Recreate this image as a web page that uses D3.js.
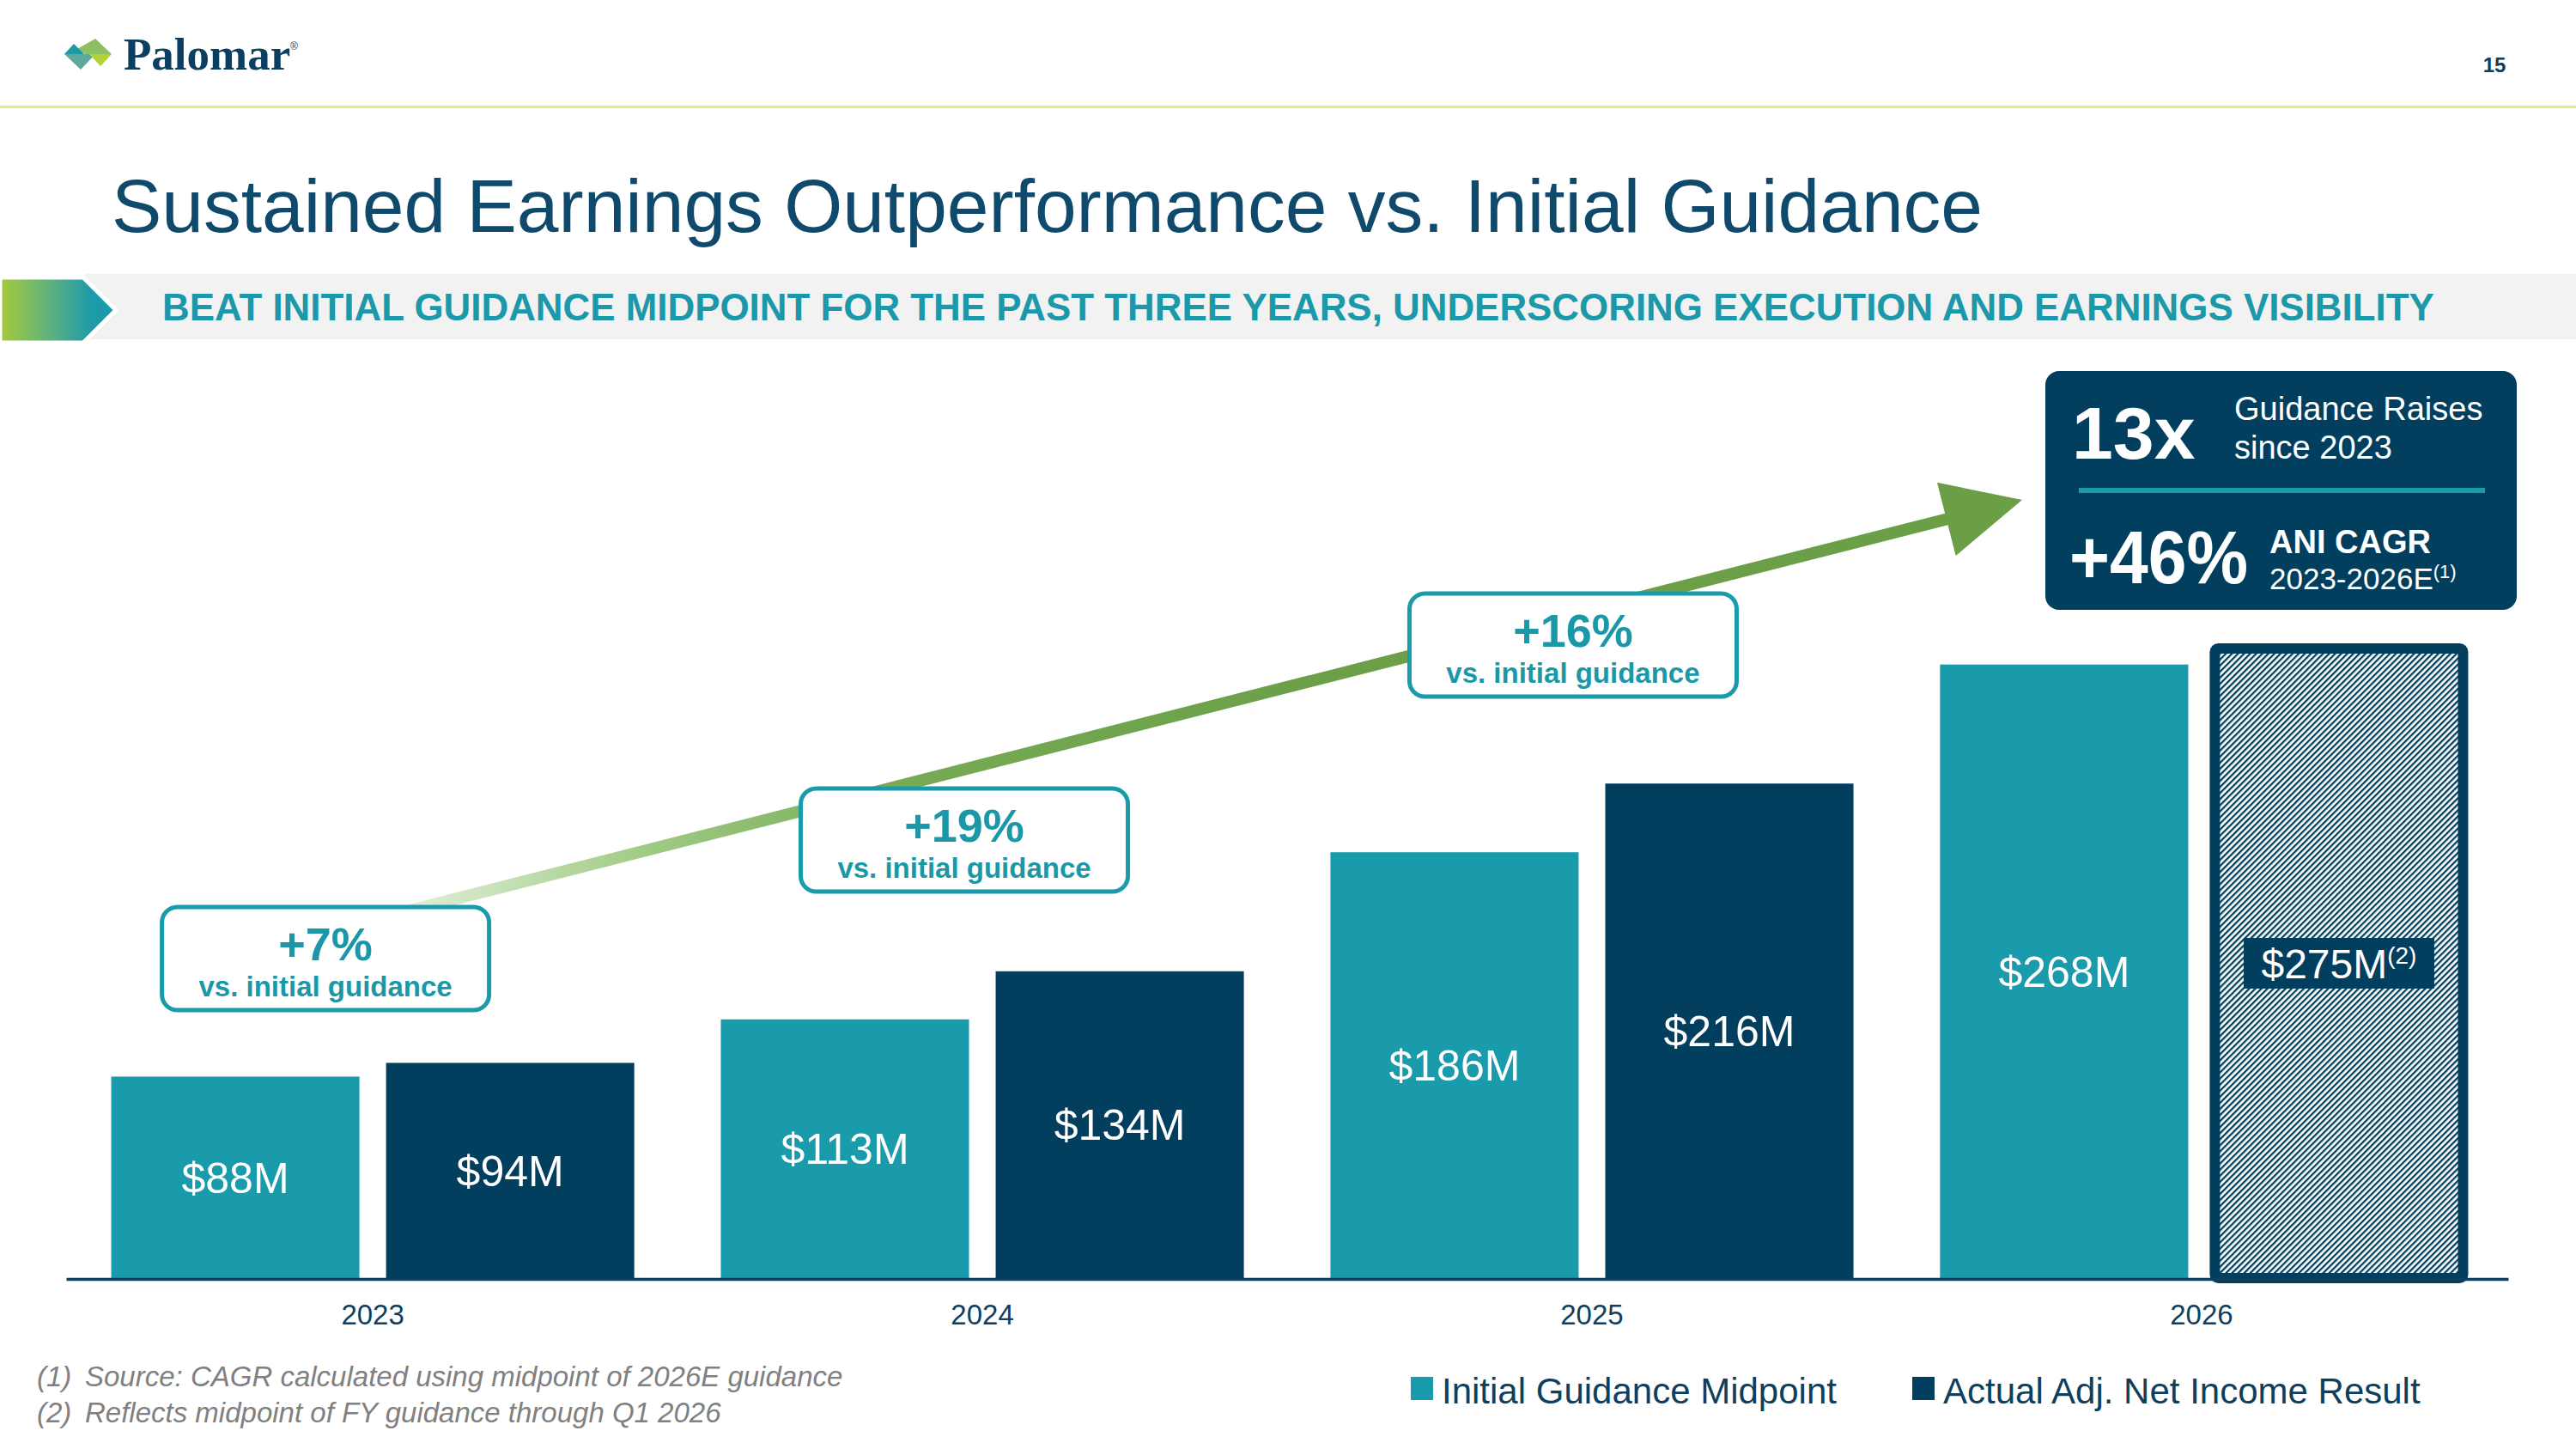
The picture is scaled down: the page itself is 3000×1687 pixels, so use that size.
<!DOCTYPE html>
<html>
<head>
<meta charset="utf-8">
<script src="https://cdn.jsdelivr.net/npm/d3@7"></script>
<style>
  html, body { margin: 0; padding: 0; background: #fff; }
  svg { display: block; font-family: "Liberation Sans", Arial, sans-serif; }
</style>
</head>
<body>
<div id="chart"></div>
<script>
// ---- data ----
const years = ["2023", "2024", "2025", "2026"];
const initialGuidance = [88, 113, 186, 268];
const actualResult = [94, 134, 216, 275];
const beatVsGuidance = ["+7%", "+19%", "+16%"];
const seriesNames = ["Initial Guidance Midpoint", "Actual Adj. Net Income Result"];
const footnoteMarks = ["(1)", "(2)"];
const footnotes = [
    "Source: CAGR calculated using midpoint of 2026E guidance",
    "Reflects midpoint of FY guidance through Q1 2026"
];
const estimateYear = "2026";

const width = 3000,
    height = 1687;

const teal = "#1a9bab",
    navy = "#023f5f",
    textNavy = "#0e3f5e",
    titleColor = "#0f4a6c";

const svg = d3.select("#chart")
    .append("svg")
    .attr("width", width)
    .attr("height", height)
    .attr("viewBox", `0 0 ${width} ${height}`);

const defs = svg.append("defs");

// hatch for the estimate bar
const hatch = defs.append("pattern")
    .attr("id", "hatch")
    .attr("patternUnits", "userSpaceOnUse")
    .attr("width", 5)
    .attr("height", 5)
    .attr("patternTransform", "rotate(45)");
hatch.append("rect").attr("width", 5).attr("height", 5).attr("fill", "#fff");
hatch.append("rect").attr("width", 2.3).attr("height", 5).attr("fill", navy);

// banner chevron gradient
const chevGrad = defs.append("linearGradient")
    .attr("id", "chevGrad")
    .attr("x1", 0).attr("x2", 1).attr("y1", 0).attr("y2", 0);
chevGrad.append("stop").attr("offset", 0).attr("stop-color", "#a6ca3a");
chevGrad.append("stop").attr("offset", 0.45).attr("stop-color", "#5cb081");
chevGrad.append("stop").attr("offset", 0.8).attr("stop-color", "#1b9aaa");

// ---- header ----
const logo = svg.append("g");
logo.append("polygon").attr("points", "75,63 111,63 94,81").attr("fill", "#5fa89c");
logo.append("polygon").attr("points", "104,63 130,63 117,77").attr("fill", "#b3d235");
logo.append("polygon").attr("points", "90,57 111,45 130,63 99,63").attr("fill", "#8cc063");
logo.append("polygon").attr("points", "75,63 86,51 98,63").attr("fill", "#1d9aa8");
logo.append("text")
    .attr("x", 144).attr("y", 81)
    .style("font-family", "'Liberation Serif', 'Times New Roman', serif")
    .style("font-weight", "bold")
    .style("font-size", "53px")
    .attr("fill", "#0c3f5f")
    .text("Palomar");
logo.append("text")
    .attr("x", 338).attr("y", 58)
    .style("font-size", "12px")
    .attr("fill", "#0c3f5f")
    .text("®");

svg.append("text")
    .attr("x", 2905).attr("y", 84)
    .attr("text-anchor", "middle")
    .style("font-weight", "bold")
    .style("font-size", "24px")
    .attr("fill", textNavy)
    .text("15");

svg.append("rect")
    .attr("x", 0).attr("y", 123)
    .attr("width", width).attr("height", 3)
    .attr("fill", "#e2ea8c");

svg.append("text")
    .attr("x", 130).attr("y", 270)
    .style("font-size", "87.5px")
    .attr("fill", titleColor)
    .text("Sustained Earnings Outperformance vs. Initial Guidance");

// banner
svg.append("rect")
    .attr("x", 99).attr("y", 319)
    .attr("width", width - 99).attr("height", 76)
    .attr("fill", "#f2f2f2");
svg.append("polygon")
    .attr("points", "0,323 97,323 135,361 97,399 0,399")
    .attr("fill", "url(#chevGrad)")
    .attr("stroke", "#fff")
    .attr("stroke-width", 5);
svg.append("text")
    .attr("x", 189).attr("y", 373)
    .style("font-weight", "bold")
    .style("font-size", "43.9px")
    .attr("fill", "#1b98a9")
    .text("BEAT INITIAL GUIDANCE MIDPOINT FOR THE PAST THREE YEARS, UNDERSCORING EXECUTION AND EARNINGS VISIBILITY");

// ---- scales ----
const x = d3.scaleBand()
    .domain(years)
    .range([77, 2921])
    .paddingInner(0.142)
    .paddingOuter(0.074);

const xSub = d3.scaleBand()
    .domain(["initial", "actual"])
    .range([0, x.bandwidth()])
    .paddingInner(0.097);

const y = d3.scaleLinear()
    .domain([0, 275])
    .range([1488, 755]);

const rows = years.map((yr, i) => ({year: yr, initial: initialGuidance[i], actual: actualResult[i]}));
const barData = rows.flatMap(r => [
    {year: r.year, key: "initial", value: r.initial},
    {year: r.year, key: "actual", value: r.actual}
]);

// ---- growth arrow (drawn under the callouts) ----
const arrowStart = [470, 1062],
    arrowTip = [2355, 582];
{
    const dx = arrowTip[0] - arrowStart[0], dy = arrowTip[1] - arrowStart[1];
    const len = Math.hypot(dx, dy);
    const ux = dx / len, uy = dy / len;
    const nx = -uy, ny = ux;
    const headLen = 91, headHalf = 44, shaftHalf = 7;
    const bx = arrowTip[0] - ux * headLen, by = arrowTip[1] - uy * headLen;
    const pts = [
        [arrowStart[0] + nx * shaftHalf, arrowStart[1] + ny * shaftHalf],
        [bx + nx * shaftHalf, by + ny * shaftHalf],
        [bx + nx * headHalf, by + ny * headHalf],
        arrowTip,
        [bx - nx * headHalf, by - ny * headHalf],
        [bx - nx * shaftHalf, by - ny * shaftHalf],
        [arrowStart[0] - nx * shaftHalf, arrowStart[1] - ny * shaftHalf]
    ];
    const arrowGrad = defs.append("linearGradient")
        .attr("id", "arrowGrad")
        .attr("gradientUnits", "userSpaceOnUse")
        .attr("x1", 493).attr("y1", 1056)
        .attr("x2", arrowTip[0]).attr("y2", arrowTip[1]);
    arrowGrad.append("stop").attr("offset", 0).attr("stop-color", "#dcedd1");
    arrowGrad.append("stop").attr("offset", 0.14).attr("stop-color", "#9fca84");
    arrowGrad.append("stop").attr("offset", 0.3).attr("stop-color", "#76aa55");
    arrowGrad.append("stop").attr("offset", 0.55).attr("stop-color", "#6ba049");
    arrowGrad.append("stop").attr("offset", 1).attr("stop-color", "#6a9f47");
    svg.append("path")
        .attr("d", "M" + pts.map(p => p.join(",")).join("L") + "Z")
        .attr("fill", "url(#arrowGrad)");
}

// ---- bars ----
const barsG = svg.append("g");
barsG.selectAll(".bar")
    .data(barData)
    .join("rect")
    .attr("class", "bar")
    .attr("x", d => x(d.year) + xSub(d.key))
    .attr("y", d => y(d.value))
    .attr("width", xSub.bandwidth())
    .attr("height", d => y(0) - y(d.value))
    .attr("rx", d => (d.key === "actual" && d.year === estimateYear) ? 4 : 0)
    .attr("fill", d => {
        if (d.key === "actual" && d.year === estimateYear) return "url(#hatch)";
        return d.key === "initial" ? teal : navy;
    })
    .attr("stroke", d => (d.key === "actual" && d.year === estimateYear) ? navy : "none")
    .attr("stroke-width", 12);

// value labels
barData.forEach(d => {
    const cx = x(d.year) + xSub(d.key) + xSub.bandwidth() / 2;
    const cy = (y(d.value) + y(0)) / 2;
    const isEst = d.key === "actual" && d.year === estimateYear;
    if (isEst) {
        barsG.append("rect")
            .attr("x", cx - 111).attr("y", cy - 29.5)
            .attr("width", 222).attr("height", 59)
            .attr("fill", navy);
    }
    const t = barsG.append("text")
        .attr("x", cx).attr("y", cy)
        .attr("dy", "0.36em")
        .attr("text-anchor", "middle")
        .style("font-size", isEst ? "48px" : "50px")
        .attr("fill", "#fff")
        .text("$" + d.value + "M");
    if (isEst) {
        t.append("tspan")
            .attr("dy", -17)
            .style("font-size", "28px")
            .text("(2)");
    }
});

// ---- axis ----
const axis = svg.append("g")
    .attr("transform", `translate(0,${y(0) + 1})`)
    .call(d3.axisBottom(x).tickSize(0).tickSizeOuter(0));
axis.select(".domain")
    .attr("stroke", textNavy)
    .attr("stroke-width", 3.5);
axis.selectAll(".tick text")
    .attr("y", 53)
    .attr("dy", 0)
    .style("font-family", "'Liberation Sans', Arial, sans-serif")
    .style("font-size", "33px")
    .attr("fill", textNavy);

// ---- callouts ----
const calloutLayout = [
    {dx: -55, top: 1056},
    {dx: -21, top: 918},
    {dx: -22, top: 691}
];
const boxW = 381, boxH = 120;
beatVsGuidance.forEach((pct, i) => {
    const cx = x(years[i]) + x.bandwidth() / 2 + calloutLayout[i].dx;
    const top = calloutLayout[i].top;
    const g = svg.append("g");
    g.append("rect")
        .attr("x", cx - boxW / 2).attr("y", top)
        .attr("width", boxW).attr("height", boxH)
        .attr("rx", 18)
        .attr("fill", "#fff")
        .attr("stroke", teal)
        .attr("stroke-width", 5);
    g.append("text")
        .attr("x", cx).attr("y", top + 62)
        .attr("text-anchor", "middle")
        .style("font-weight", "bold")
        .style("font-size", "54px")
        .attr("fill", "#1b98a8")
        .text(pct);
    g.append("text")
        .attr("x", cx).attr("y", top + 104)
        .attr("text-anchor", "middle")
        .style("font-weight", "bold")
        .style("font-size", "33px")
        .attr("fill", "#1b98a8")
        .text("vs. initial guidance");
});

// ---- stats box ----
const stats = svg.append("g");
stats.append("rect")
    .attr("x", 2382).attr("y", 432)
    .attr("width", 549).attr("height", 278)
    .attr("rx", 16)
    .attr("fill", navy);
stats.append("text")
    .attr("x", 2413).attr("y", 534)
    .style("font-weight", "bold").style("font-size", "86px")
    .attr("fill", "#fff")
    .text("13x");
stats.append("text")
    .attr("x", 2602).attr("y", 489)
    .style("font-size", "38px")
    .attr("fill", "#fff")
    .text("Guidance Raises");
stats.append("text")
    .attr("x", 2602).attr("y", 534)
    .style("font-size", "38px")
    .attr("fill", "#fff")
    .text("since 2023");
stats.append("rect")
    .attr("x", 2421).attr("y", 568)
    .attr("width", 473).attr("height", 6)
    .attr("fill", teal);
stats.append("text")
    .attr("x", 2410).attr("y", 679)
    .attr("textLength", 208)
    .attr("lengthAdjust", "spacingAndGlyphs")
    .style("font-weight", "bold").style("font-size", "88px")
    .attr("fill", "#fff")
    .text("+46%");
stats.append("text")
    .attr("x", 2643).attr("y", 644)
    .style("font-weight", "bold").style("font-size", "38px")
    .attr("fill", "#fff")
    .text("ANI CAGR");
const cagrYears = stats.append("text")
    .attr("x", 2643).attr("y", 686)
    .style("font-size", "35px")
    .attr("fill", "#fff")
    .text("2023-2026E");
cagrYears.append("tspan")
    .attr("dy", -13)
    .style("font-size", "22px")
    .text("(1)");

// ---- legend ----
const legendX = [1643, 2227];
const legend = svg.selectAll(".legendItem")
    .data(seriesNames)
    .join("g")
    .attr("class", "legendItem")
    .attr("transform", (d, i) => `translate(${legendX[i]},1603)`);
legend.append("rect")
    .attr("width", 26).attr("height", 27)
    .attr("fill", (d, i) => i === 0 ? teal : navy);
legend.append("text")
    .attr("x", 36).attr("y", 31)
    .style("font-size", "42px")
    .attr("fill", textNavy)
    .text(d => d);

// ---- footnotes ----
footnotes.forEach((f, i) => {
    const yy = 1614 + i * 42;
    svg.append("text")
        .attr("x", 43).attr("y", yy)
        .style("font-style", "italic").style("font-size", "33px")
        .attr("fill", "#808080")
        .text(footnoteMarks[i]);
    svg.append("text")
        .attr("x", 99).attr("y", yy)
        .style("font-style", "italic").style("font-size", "33px")
        .attr("fill", "#808080")
        .text(f);
});
</script>
</body>
</html>
